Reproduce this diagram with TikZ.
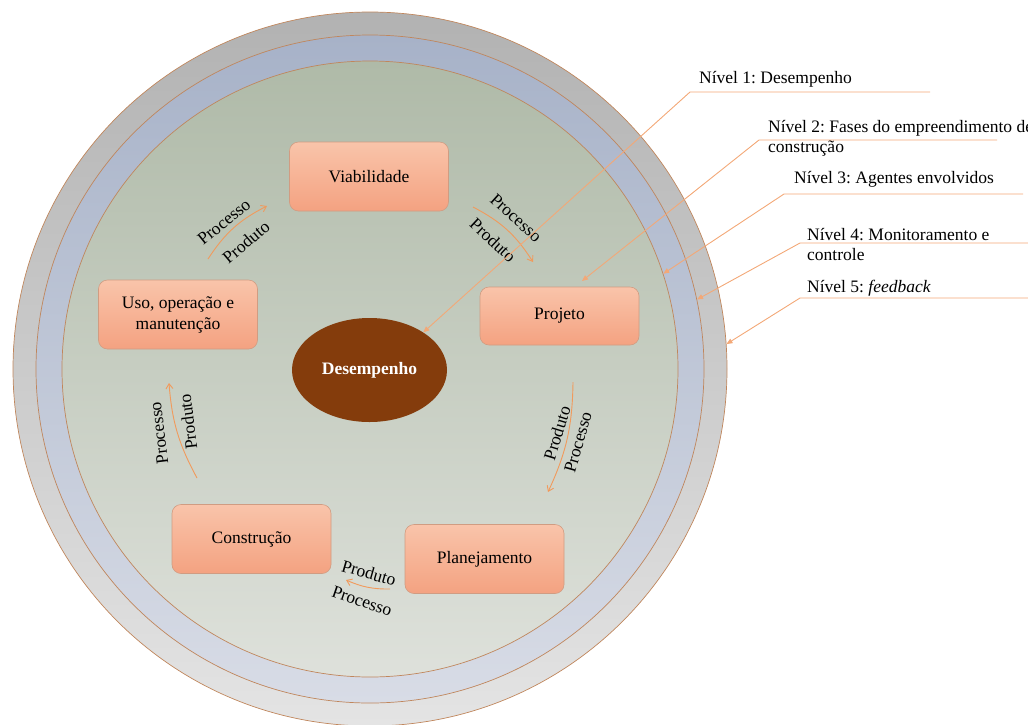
\documentclass[tikz,border=0pt]{standalone}
\usepackage{fontspec}
\setmainfont{Liberation Serif}
\usetikzlibrary{arrows.meta,shapes.geometric}
\frenchspacing

% palette
\definecolor{ringAtop}{HTML}{B2B2B2}
\definecolor{ringAbot}{HTML}{E4E4E4}
\definecolor{ringBtop}{HTML}{A7B2C8}
\definecolor{ringBbot}{HTML}{D8DCE6}
\definecolor{coretop}{HTML}{AFBAA8}
\definecolor{corebot}{HTML}{DEE1DB}
\definecolor{rim}{HTML}{C0865C}
\definecolor{boxtop}{HTML}{F9C4AA}
\definecolor{boxbot}{HTML}{F4A281}
\definecolor{boxline}{HTML}{D09C82}
\definecolor{perf}{HTML}{843C0C}
\definecolor{flowc}{HTML}{F19A5C}
\definecolor{leadc}{HTML}{F3A877}

\begin{document}
\begin{tikzpicture}[x=1pt,y=-1pt,
  every node/.style={font=\fontsize{17.5}{21}\selectfont, text=black},
  ring/.style={circle, draw=rim, line width=0.7pt, inner sep=0pt, shading angle=30},
  phase/.style={rectangle, rounded corners=9pt, draw=boxline, line width=0.6pt,
    top color=boxtop, bottom color=boxbot, minimum width=159pt, minimum height=69pt,
    align=center, inner sep=2pt},
  flow/.style={draw=flowc, line width=0.9pt, -{Straight Barb[length=5pt,width=7pt]}},
  tag/.style={inner sep=0pt},
  lead/.style={draw=leadc, line width=0.9pt, -{Triangle[length=6pt,width=5pt]}},
  levtext/.style={anchor=base west, inner sep=0pt}
]
\useasboundingbox (0,0) rectangle (1028,724);

% concentric levels
\node[ring, minimum size=714pt, top color=ringAtop, bottom color=ringAbot] (ring5) at (370,369) {};
\node[ring, minimum size=668pt, top color=ringBtop, bottom color=ringBbot] (ring4) at (370,369) {};
\node[ring, minimum size=616pt, top color=coretop, bottom color=corebot] (ring3) at (370,369) {};

% core
\node[ellipse, fill=perf, minimum width=155pt, minimum height=104pt, inner sep=0pt,
      text=white, font=\fontsize{17.5}{21}\selectfont\bfseries] (des) at (369.5,370) {Desempenho};

% phases of the enterprise
\node[phase] (viab) at (369,176.5) {Viabilidade};
\node[phase, minimum height=58pt] (proj) at (559.5,316) {Projeto};
\node[phase] (plan) at (484.5,559) {Planejamento};
\node[phase] (cons) at (251.5,539) {Construção};
\node[phase] (uso) at (178,314.5) {Uso, operação e\\manutenção};

% flow arrow end points
\coordinate (a1s) at (208,259); \coordinate (a1e) at (267,206);
\coordinate (a2s) at (473,207); \coordinate (a2e) at (533,262);
\coordinate (a3s) at (573,382); \coordinate (a3e) at (548,492);
\coordinate (a4s) at (390,589); \coordinate (a4e) at (346,580);
\coordinate (a5s) at (197,478); \coordinate (a5e) at (169,383);

\draw[flow] (a1s) to[bend left=15] (a1e);
\draw[flow] (a2s) to[bend left=15] (a2e);
\draw[flow] (a3s) to[bend left=12] (a3e);
\draw[flow] (a4s) to[bend left=12] (a4e);
\draw[flow] (a5s) to[bend left=12] (a5e);

\node[tag, rotate=39] (p1) at (224,222) {Processo};
\node[tag, rotate=40] (q1) at (246,242) {Produto};
\node[tag, rotate=-42] (p2) at (516,218) {Processo};
\node[tag, rotate=-43] (q2) at (493,240) {Produto};
\node[tag, rotate=73] (q3) at (557,433) {Produto};
\node[tag, rotate=74] (p3) at (578,442) {Processo};
\node[tag, rotate=-16] (q4) at (369,573) {Produto};
\node[tag, rotate=-19] (p4) at (362,601) {Processo};
\node[tag, rotate=97] (p5) at (159,433) {Processo};
\node[tag, rotate=97] (q5) at (188,422) {Produto};

% level captions
\node[levtext] (n1) at (699,83) {Nível 1: Desempenho};
\node[levtext] (n2) at (768,132) {Nível 2: Fases do empreendimento de};
\node[levtext] (n2b) at (768,152) {construção};
\node[levtext] (n3) at (794,183) {Nível 3: Agentes envolvidos};
\node[levtext] (n4) at (807,240) {Nível 4: Monitoramento e};
\node[levtext] (n4b) at (807,260) {controle};
\node[levtext] (n5) at (807,292) {Nível 5: \textit{feedback}};

% leader lines
\coordinate (h1r) at (930,92);  \coordinate (h1l) at (690,92);
\coordinate (h2r) at (997,140); \coordinate (h2l) at (759,140);
\coordinate (h3r) at (1023,194); \coordinate (h3l) at (784,194);
\coordinate (h4r) at (1030,243); \coordinate (h4l) at (800,243);
\coordinate (h5r) at (1030,298); \coordinate (h5l) at (800,298);
\coordinate (t2) at (582,281);

\draw[lead] (h1r) -- (h1l) -- (des.35);
\draw[lead] (h2r) -- (h2l) -- (t2);
\draw[lead] (h3r) -- (h3l) -- (ring3.18);
\draw[lead] (h4r) -- (h4l) -- (ring4.12);
\draw[lead] (h5r) -- (h5l) -- (ring5.4.5);
\end{tikzpicture}
\end{document}
